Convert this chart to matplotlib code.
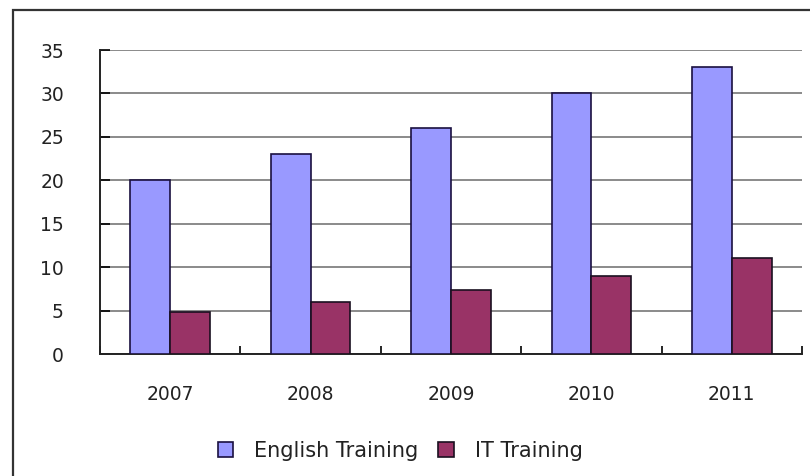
import matplotlib
matplotlib.use("Agg")
import matplotlib.pyplot as plt
import numpy as np
from matplotlib.patches import Rectangle

years = ["2007", "2008", "2009", "2010", "2011"]
english = [20, 23, 26, 30, 33]
it_training = [4.8, 6, 7.4, 9, 11]
yticks = [0, 5, 10, 15, 20, 25, 30, 35]

plt.rcParams["font.family"] = ["DejaVu Sans"]

W, H = 810, 476
fig = plt.figure(figsize=(W / 100, H / 100), dpi=100)
fig.patch.set_facecolor("white")

# outer chart border (runs off the right and bottom of the picture)
fig.patches.append(Rectangle((13 / W, -0.1), 1.2, 1 - 10 / H + 0.1,
                             transform=fig.transFigure, fill=False,
                             edgecolor="#333333", linewidth=1.6))

ax = fig.add_axes([100 / W, 1 - 354 / H, 702 / W, 304 / H])

x = np.arange(len(years))
bw = 0.284
ax.bar(x - bw / 2, english, bw, color="#9999FF", edgecolor="#1a1040",
       linewidth=1.2, label="English Training", zorder=3)
ax.bar(x + bw / 2, it_training, bw, color="#993366", edgecolor="#1a1020",
       linewidth=1.2, label="IT Training", zorder=3)

ax.set_xlim(-0.5, len(years) - 0.5)
ax.set_ylim(0, 35)
ax.set_yticks(yticks)
ax.yaxis.grid(True, color="#777777", linewidth=1.2, zorder=0)
ax.set_axisbelow(True)

# x ticks at group boundaries, labels at group centres
ax.set_xticks(np.arange(len(years) + 1) - 0.5)
ax.set_xticklabels([])
ax.set_xticks(x, minor=True)
ax.set_xticklabels(years, minor=True, fontsize=13.5, color="#222222")
ax.tick_params(axis="x", which="major", direction="in", length=6, width=1.2)
ax.tick_params(axis="x", which="minor", length=0, pad=22)
ax.tick_params(axis="y", direction="in", length=7, width=1.2,
               labelsize=13.5, labelcolor="#222222", pad=26)

for s in ["top", "right"]:
    ax.spines[s].set_visible(False)
for s in ["left", "bottom"]:
    ax.spines[s].set_linewidth(1.4)
    ax.spines[s].set_color("#222222")

leg = fig.legend(loc="center", bbox_to_anchor=(400 / W, 1 - 451 / H), ncol=2,
                 frameon=False, fontsize=15, handlelength=0.75, handleheight=0.75,
                 handletextpad=1.0, columnspacing=0.95)
for t in leg.get_texts():
    t.set_color("#222222")

fig.savefig("out.png", dpi=100)
